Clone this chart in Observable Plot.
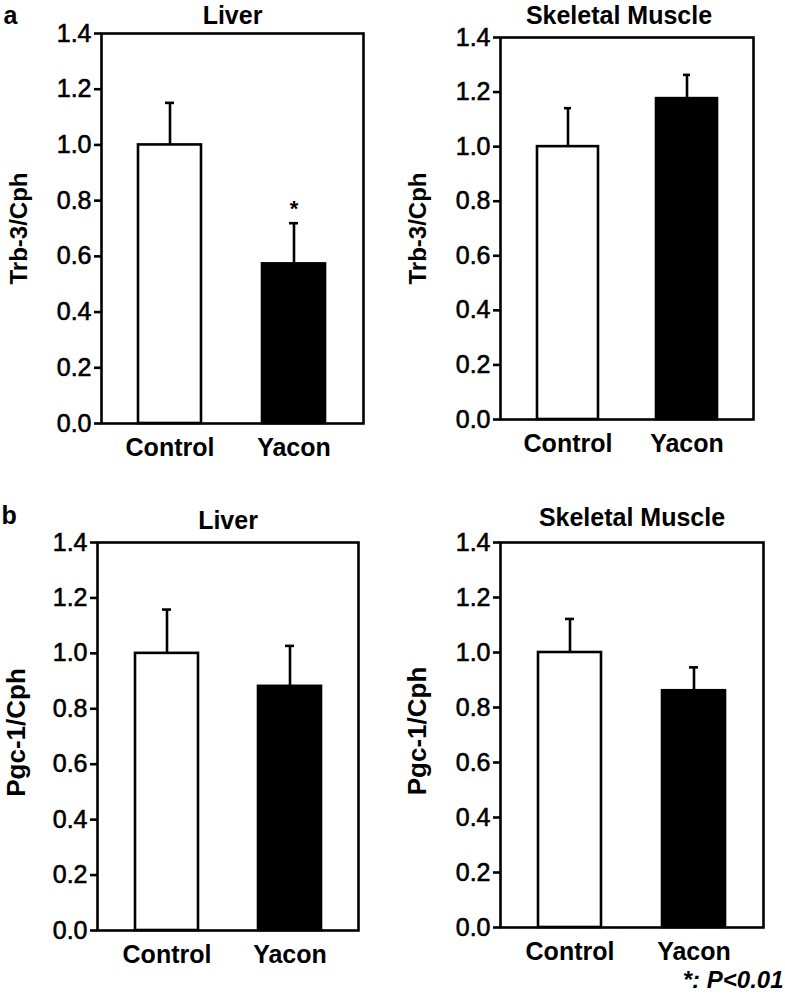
<!DOCTYPE html>
<html><head><meta charset="utf-8">
<script src="https://cdn.jsdelivr.net/npm/d3@7"></script>
<script src="https://cdn.jsdelivr.net/npm/@observablehq/plot@0.6"></script>
<style>
body{margin:0;background:#fff;}
#wrap{position:relative;width:785px;height:1000px;overflow:hidden;background:#fff;}
#wrap > div{position:absolute;}
</style></head><body><div id="wrap"></div>
<script>
const groups = ["Control", "Yacon"];
const barFills = ["white", "black"];
const yTicks = [0, 0.2, 0.4, 0.6, 0.8, 1.0, 1.2, 1.4];

const trbLiverMean = [1.00, 0.573];
const trbLiverErr = [0.151, 0.146];
const trbLiverSig = [false, true];

const trbMuscleMean = [1.00, 1.176];
const trbMuscleErr = [0.141, 0.087];
const trbMuscleSig = [false, false];

const pgcLiverMean = [1.00, 0.881];
const pgcLiverErr = [0.158, 0.146];
const pgcLiverSig = [false, false];

const pgcMuscleMean = [1.00, 0.861];
const pgcMuscleErr = [0.122, 0.085];
const pgcMuscleSig = [false, false];

const font = "'Liberation Sans', Arial, Helvetica, sans-serif";

function panel(cfg) {
  const data = groups.map((g, i) => ({group: g, mean: cfg.mean[i], err: cfg.err[i], fill: barFills[i], sig: cfg.sig[i]}));
  const marks = [
    Plot.barY(data, {x: "group", y: "mean", fill: "fill", stroke: "black", strokeWidth: 2.6}),
    Plot.ruleX(data, {x: "group", y1: "mean", y2: d => d.mean + d.err, stroke: "black", strokeWidth: 2.6}),
    Plot.tickY(data, {x: "group", y: d => d.mean + d.err, stroke: "black", strokeWidth: 2.6, insetLeft: 27, insetRight: 27}),
    Plot.text(data.filter(d => d.sig), {x: "group", y: d => d.mean + d.err, text: () => "*", dy: -7, lineAnchor: "bottom", fontSize: 22, fontWeight: "bold"}),
    Plot.frame({stroke: "black", strokeWidth: 2.6}),
    Plot.axisY({ticks: yTicks, tickFormat: d => d.toFixed(1), tickSize: 7, tickPadding: 3, strokeWidth: 2.6, fontSize: 25, label: null}),
    Plot.axisX({tickSize: 0, tickPadding: 15, fontSize: 25, fontWeight: "bold", label: null}),
    Plot.text([cfg.title], {frameAnchor: "top", lineAnchor: "bottom", dy: cfg.titleDy, dx: cfg.titleDx || 0, fontSize: 25, fontWeight: "bold"}),
    Plot.text([cfg.ylabel], {frameAnchor: "left", rotate: -90, textAnchor: "middle", lineAnchor: "middle", dx: cfg.ylabelDx, dy: cfg.ylabelDy || 0, fontSize: cfg.ylabelSize, fontWeight: "bold"})
  ];
  if (cfg.letter) marks.push(Plot.text([cfg.letter], {frameAnchor: "top-left", textAnchor: "start", lineAnchor: "bottom", dx: cfg.letterDx, dy: cfg.letterDy, fontSize: 25, fontWeight: "bold"}));
  if (cfg.footnote) marks.push(Plot.text([cfg.footnote], {frameAnchor: "bottom-right", textAnchor: "end", lineAnchor: "bottom", dx: 20, dy: 60, fontSize: 24, fontWeight: "bold", fontStyle: "italic"}));
  const chart = Plot.plot({
    width: cfg.width, height: cfg.height,
    marginLeft: cfg.ml, marginRight: cfg.mr, marginTop: cfg.mt, marginBottom: cfg.mb,
    style: {fontFamily: font, fontSize: "25px", color: "black", background: "white", overflow: "visible"},
    x: {domain: groups, paddingInner: 0.49, paddingOuter: 0.3, axis: null},
    y: {domain: [0, 1.4], axis: null},
    color: {type: "identity"},
    marks
  });
  // slightly heavier tick labels, as in the reference
  d3.select(chart).selectAll("g[aria-label='y-axis tick label'] text")
    .attr("stroke", "black").attr("stroke-width", 0.6);
  const div = document.createElement("div");
  div.style.left = cfg.left + "px";
  div.style.top = cfg.top + "px";
  div.style.width = cfg.width + "px";
  div.style.height = cfg.height + "px";
  div.appendChild(chart);
  document.getElementById("wrap").appendChild(div);
}

panel({mean: trbLiverMean, err: trbLiverErr, sig: trbLiverSig, title: "Liver", ylabel: "Trb-3/Cph", ylabelSize: 24,
  left: 0, top: 0, width: 392, height: 490, ml: 101, mr: 29, mt: 33, mb: 67,
  titleDy: -10, ylabelDx: -82, letter: "a", letterDx: -98, letterDy: -10});
panel({mean: trbMuscleMean, err: trbMuscleErr, sig: trbMuscleSig, title: "Skeletal Muscle", ylabel: "Trb-3/Cph", ylabelSize: 24,
  left: 392, top: 0, width: 393, height: 490, ml: 108, mr: 32, mt: 37, mb: 71,
  titleDy: -14, titleDx: -8, ylabelDx: -82});
panel({mean: pgcLiverMean, err: pgcLiverErr, sig: pgcLiverSig, title: "Liver", ylabel: "Pgc-1/Cph", ylabelSize: 26,
  left: 0, top: 490, width: 392, height: 510, ml: 97, mr: 34, mt: 52, mb: 70,
  titleDy: -14, ylabelDx: -81, ylabelDy: -4, letter: "b", letterDx: -96, letterDy: -19});
panel({mean: pgcMuscleMean, err: pgcMuscleErr, sig: pgcMuscleSig, title: "Skeletal Muscle", ylabel: "Pgc-1/Cph", ylabelSize: 26,
  left: 392, top: 490, width: 393, height: 510, ml: 108, mr: 22, mt: 52, mb: 73,
  titleDy: -17, ylabelDx: -83, ylabelDy: -4, footnote: "*: P<0.01"});
</script>
</body></html>
